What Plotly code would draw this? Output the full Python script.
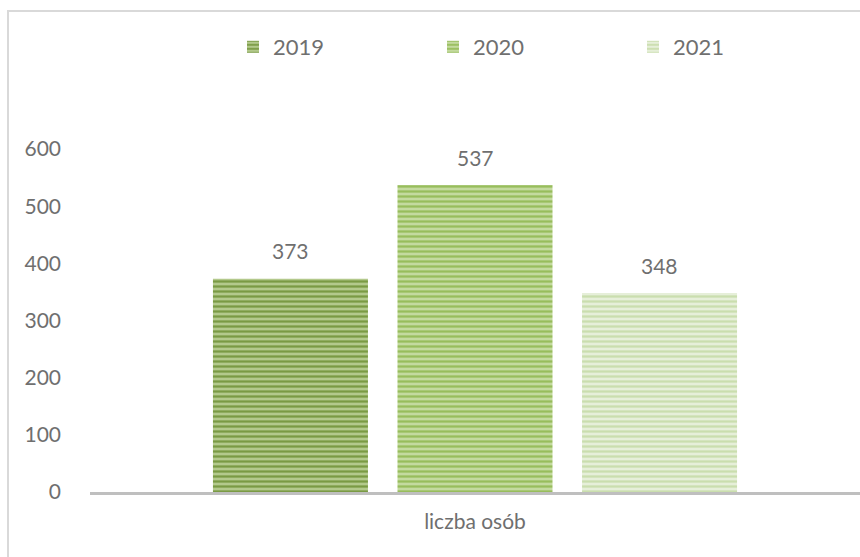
import plotly.graph_objects as go

categories = ["liczba osób"]
years = ["2019", "2020", "2021"]
values_2019 = [373]
values_2020 = [537]
values_2021 = [348]
series_values = [values_2019, values_2020, values_2021]
y_ticks = [0, 100, 200, 300, 400, 500, 600]

bg_colors = ["#b3c98c", "#c4da9f", "#e6efd9"]
fg_colors = ["#7a9a44", "#98bd5c", "#cadeae"]
TXT = "#6f6f6f"

BARGAP = 0.281
W, H = 860, 557
L, R, T, B = 90, 0, 149, 65
PW, PH = W - L - R, H - T - B

fig = go.Figure()
for name, vals, bg, fg in zip(years, series_values, bg_colors, fg_colors):
    fig.add_trace(go.Bar(
        name=name, x=categories, y=vals,
        marker=dict(color=bg, line=dict(width=0),
                    pattern=dict(shape="-", fgcolor=fg, bgcolor=bg, size=5, solidity=0.45, fillmode="replace")),
    ))

# data labels above each bar (positions in the category axis' own units)
n = len(years)
slot = (1 - BARGAP) / n
for i, vals in enumerate(series_values):
    for j, v in enumerate(vals):
        fig.add_annotation(x=j + (i - (n - 1) / 2) * slot, y=v, xref="x", yref="y",
                           text=str(v), showarrow=False, yanchor="middle", yshift=28,
                           font=dict(size=21, color=TXT))

fig.update_layout(
    width=W, height=H,
    margin=dict(l=L, r=R, t=T, b=B, autoexpand=False),
    paper_bgcolor="white", plot_bgcolor="white",
    font=dict(family="Lato, Open Sans, sans-serif", color=TXT, size=21),
    barmode="group", bargap=BARGAP, bargroupgap=0.16,
    showlegend=True,
    legend=dict(orientation="h", x=(233 - L) / PW, y=1 - 47 / H, yanchor="middle", yref="container",
                xanchor="left", entrywidth=155, entrywidthmode="pixels",
                bgcolor="rgba(0,0,0,0)",
                font=dict(size=22, color=TXT), traceorder="normal"),
    xaxis=dict(showline=True, linecolor="#bfbfbf", linewidth=3, ticks="", showgrid=False,
               ticklabelstandoff=9, tickfont=dict(size=21, color=TXT)),
    yaxis=dict(range=[0, 600], tickvals=y_ticks, showgrid=False, zeroline=False, showline=False,
               ticklabelstandoff=28, tickfont=dict(size=21, color=TXT)),
)
fig.add_shape(type="rect", xref="paper", yref="paper",
              x0=(8 - L) / PW, x1=(880 - L) / PW,
              y0=-(580 - T - PH) / PH, y1=1 + (T - 11) / PH,
              line=dict(color="#d9d9d9", width=2), fillcolor="rgba(0,0,0,0)", layer="below")
fig.write_html("out.html", config={"displayModeBar": False},
               post_script="document.body.style.margin='0';document.body.style.overflow='hidden';")
